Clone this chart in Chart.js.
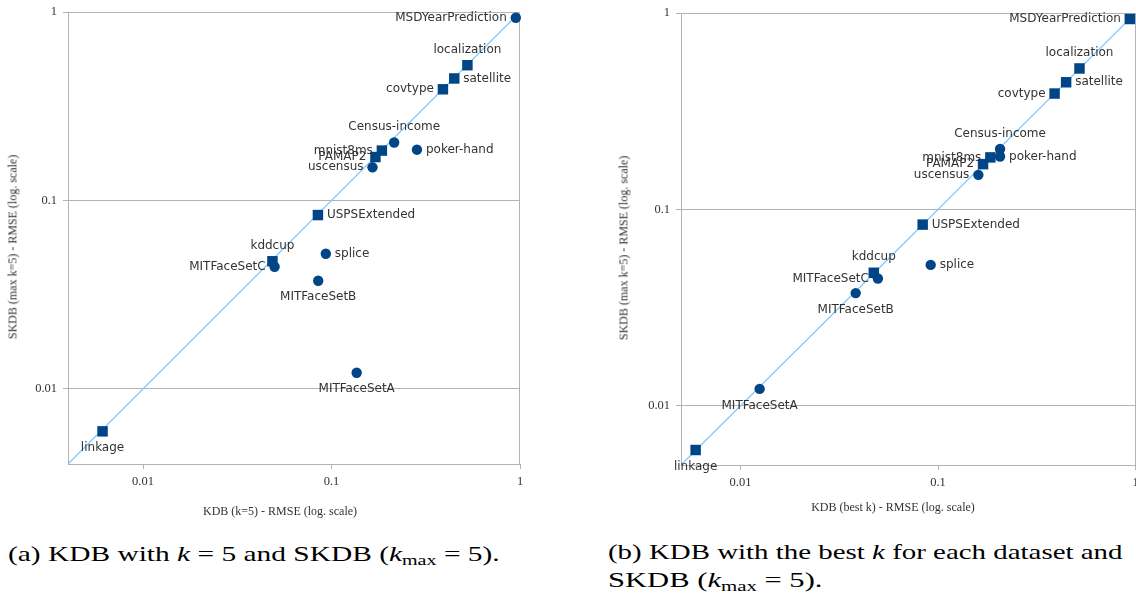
<!DOCTYPE html>
<html>
<head>
<meta charset="utf-8">
<title>KDB vs SKDB RMSE</title>
<script src="https://cdn.jsdelivr.net/npm/chart.js@4.4.1/dist/chart.umd.min.js"></script>
<style>
  body { margin: 0; width: 1136px; height: 596px; overflow: hidden; background: #fff; position: relative; }
  .box { position: absolute; }
  #leftBox { left: 0; top: 0; width: 540px; height: 525px; }
  #rightBox { left: 600px; top: 0; width: 543px; height: 525px; }
  .axt { position: absolute; font: 12px "Liberation Serif"; color: #333; white-space: nowrap; transform: translate(-50%, -50%); }
  .axt.v { transform: translate(-50%, -50%) rotate(-90deg); }
  .cap { position: absolute; font: 22px/28px "Liberation Serif"; color: #000; white-space: nowrap; transform-origin: 0 0; }
  .cap .sb { font-size: 15px; position: relative; top: 4px; }
</style>
</head>
<body>
<div class="box" id="leftBox"><canvas id="chartA"></canvas></div>
<div class="box" id="rightBox"><canvas id="chartB"></canvas></div>

<div class="axt" style="left:280px; top:511px;">KDB (k=5) - RMSE (log. scale)</div>
<div class="axt v" style="left:13px; top:247px;">SKDB (max k=5) - RMSE (log. scale)</div>
<div class="axt" style="left:893px; top:507px;">KDB (best k) - RMSE (log. scale)</div>
<div class="axt v" style="left:624px; top:248px;">SKDB (max k=5) - RMSE (log. scale)</div>

<div class="cap" id="capA" style="left:8px; top:540px;">(a) KDB with <i>k</i> = 5 and SKDB (<i>k</i><span class="sb">max</span> = 5).</div>
<div class="cap" id="capB1" style="left:608px; top:538px;">(b) KDB with the best <i>k</i> for each dataset and</div>
<div class="cap" id="capB2" style="left:608px; top:566px;">SKDB (<i>k</i><span class="sb">max</span> = 5).</div>

<script>
// datasets, in drawing order
const datasetNames = ['MSDYearPrediction', 'localization', 'satellite', 'covtype', 'Census-income',
  'poker-hand', 'mnist8ms', 'PAMAP2', 'uscensus', 'USPSExtended', 'kddcup', 'MITFaceSetC',
  'splice', 'MITFaceSetB', 'MITFaceSetA', 'linkage'];

// RMSE of SKDB (max k=5)
const skdbRmse = [0.932, 0.522, 0.444, 0.389, 0.203, 0.186, 0.184, 0.170, 0.150, 0.0837,
  0.0476, 0.0445, 0.0522, 0.0375, 0.0122, 0.00596];
// RMSE of KDB with k=5
const kdbK5Rmse = [0.95, 0.526, 0.448, 0.39, 0.215, 0.284, 0.185, 0.171, 0.165, 0.0847,
  0.0486, 0.0499, 0.0933, 0.085, 0.136, 0.0061];
// RMSE of KDB with the best k per dataset
const kdbBestRmse = [0.935, 0.52, 0.445, 0.389, 0.206, 0.206, 0.184, 0.169, 0.16, 0.0836,
  0.0473, 0.0496, 0.0918, 0.0383, 0.0125, 0.00593];

// marker shape per dataset
const markersA = ['circle', 'rect', 'rect', 'rect', 'circle', 'circle', 'rect', 'rect', 'circle',
  'rect', 'rect', 'circle', 'circle', 'circle', 'circle', 'rect'];
const markersB = ['rect', 'rect', 'rect', 'rect', 'circle', 'circle', 'rect', 'rect', 'circle',
  'rect', 'rect', 'circle', 'circle', 'circle', 'circle', 'rect'];

// where each name sits relative to its marker
const labelSides = ['left', 'above', 'right', 'left', 'above', 'right', 'left', 'left', 'left',
  'right', 'above', 'left', 'right', 'below', 'below', 'below'];

const tickValues = [0.01, 0.1, 1];

const MARK = '#004586';
const DIAG = '#83caff';
const GRID = '#b3b3b3';

const pointLabels = {
  id: 'pointLabels',
  afterDatasetsDraw(chart) {
    const ctx = chart.ctx;
    const pts = chart.getDatasetMeta(0).data;
    ctx.save();
    ctx.font = '12px "DejaVu Sans"';
    ctx.fillStyle = '#333';
    ctx.textBaseline = 'middle';
    pts.forEach((p, i) => {
      const side = labelSides[i];
      let tx = p.x, ty = p.y;
      if (side === 'left') { ctx.textAlign = 'right'; tx -= 9; }
      else if (side === 'right') { ctx.textAlign = 'left'; tx += 9; }
      else if (side === 'above') { ctx.textAlign = 'center'; ty -= 15.5; }
      else { ctx.textAlign = 'center'; ty += 16.5; }
      ctx.fillText(datasetNames[i], tx, ty);
    });
    ctx.restore();
  }
};

// right-hand edge of the plot frame
const frame = {
  id: 'frame',
  beforeDatasetsDraw(chart) {
    const {ctx, chartArea: a} = chart;
    ctx.save();
    ctx.strokeStyle = GRID;
    ctx.lineWidth = 1;
    ctx.beginPath();
    const rx = Math.round(a.right) - 0.5;
    ctx.moveTo(rx, a.top);
    ctx.lineTo(rx, a.bottom);
    ctx.stroke();
    ctx.restore();
  }
};

function logAxis(min, fitSize, horizontal) {
  return {
    type: 'logarithmic',
    min: min,
    max: 1,
    afterBuildTicks: s => { s.ticks = tickValues.map(v => ({value: v})); },
    afterFit: s => {
      if (horizontal) s.height = fitSize; else s.width = fitSize;
      s.paddingLeft = s.paddingRight = s.paddingTop = s.paddingBottom = 0;
    },
    grid: {
      color: GRID,
      lineWidth: 1,
      drawOnChartArea: !horizontal,
      drawTicks: true,
      tickLength: 5
    },
    border: { display: true, color: GRID, width: 1 },
    ticks: {
      callback: v => String(v),
      font: { family: 'Liberation Serif', size: 12.5 },
      color: '#333',
      padding: horizontal ? 5 : 6,
      autoSkip: false,
      maxRotation: 0
    }
  };
}

function makeChart(id, xs, markers, minVal, yWidth, xHeight, pad) {
  const pts = xs.map((x, i) => ({x: x, y: skdbRmse[i]}));
  return new Chart(id, {
    data: {
      datasets: [{
        type: 'scatter',
        data: pts,
        order: 1,
        pointStyle: markers,
        pointRadius: markers.map(m => m === 'rect' ? 7.4 : 5.2),
        pointBackgroundColor: MARK,
        pointBorderWidth: 0,
        clip: false
      }, {
        type: 'line',
        data: [{x: minVal, y: minVal}, {x: 1, y: 1}],
        order: 2,
        borderColor: DIAG,
        borderWidth: 1.3,
        pointRadius: 0
      }]
    },
    options: {
      responsive: true,
      maintainAspectRatio: false,
      animation: false,
      layout: { padding: pad },
      plugins: {
        legend: { display: false },
        tooltip: { enabled: false }
      },
      scales: {
        x: logAxis(minVal, xHeight, true),
        y: logAxis(minVal, yWidth, false)
      }
    },
    plugins: [frame, pointLabels]
  });
}

makeChart('chartA', kdbK5Rmse, markersA, 0.004, 68, 61, {top: 12, right: 20, left: 0, bottom: 0});
makeChart('chartB', kdbBestRmse, markersB, 0.005, 81, 60, {top: 13, right: 1, left: 0, bottom: 0});

// stretch caption lines to their set widths
function fitWidth(id, target) {
  const el = document.getElementById(id);
  el.style.transform = 'scaleX(' + (target / el.offsetWidth) + ')';
}
fitWidth('capA', 492);
fitWidth('capB1', 515);
fitWidth('capB2', 214);
</script>
</body>
</html>
